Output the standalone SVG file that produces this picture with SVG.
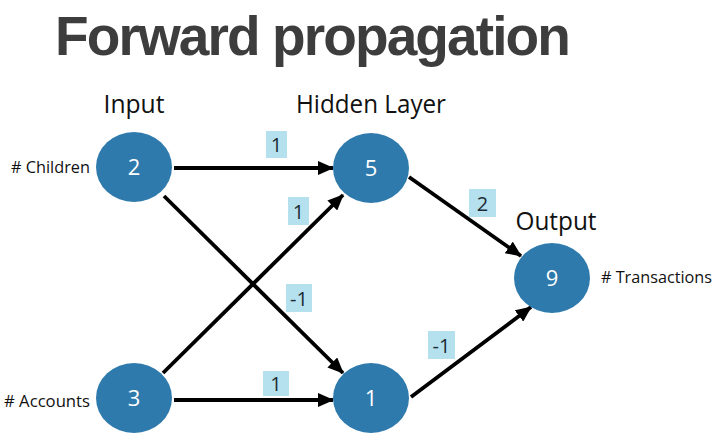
<svg xmlns="http://www.w3.org/2000/svg" width="717" height="438" viewBox="0 0 717 438">
<style>
.node{fill:#2f7aac;}
.num{fill:#ffffff;font-family:"Open Sans","Liberation Sans",sans-serif;font-size:22px;text-anchor:middle;}
.head{fill:#111;font-family:"Open Sans","Liberation Sans",sans-serif;font-size:25px;text-anchor:middle;}
.side{fill:#111;font-family:"Open Sans","Liberation Sans",sans-serif;font-size:16.5px;}
.wbox{fill:#b5e1ee;}
.wt{fill:#1c2b33;font-family:"Open Sans","Liberation Sans",sans-serif;font-size:20px;text-anchor:middle;}
.edge{stroke:#000;stroke-width:3.8;fill:none;marker-end:url(#arr);}
</style>
<defs>
<marker id="arr" markerUnits="userSpaceOnUse" markerWidth="16" markerHeight="14" refX="15" refY="7" orient="auto">
<path d="M0,0 L16,7 L0,14 Z" fill="#000"/>
</marker>
</defs>
<rect width="717" height="438" fill="#fff"/>
<text x="55" y="55" font-family="'Liberation Sans',Arial,sans-serif" font-weight="bold" font-size="55" letter-spacing="-1.9" fill="#3d3d3d">Forward propagation</text>
<text class="head" x="134" y="113" textLength="61" lengthAdjust="spacingAndGlyphs">Input</text>
<text class="head" x="371" y="113" textLength="150" lengthAdjust="spacingAndGlyphs">Hidden Layer</text>
<text class="head" x="556" y="230" textLength="81" lengthAdjust="spacingAndGlyphs">Output</text>
<g id="connectors">
<line class="edge" x1="174" y1="168" x2="333" y2="168"/>
<line class="edge" x1="164" y1="196" x2="343" y2="373"/>
<line class="edge" x1="163" y1="373" x2="343" y2="195"/>
<line class="edge" x1="174" y1="400" x2="333" y2="400"/>
<line class="edge" x1="409" y1="177" x2="521" y2="256"/>
<line class="edge" x1="411" y1="397" x2="531" y2="307"/>
</g>
<g id="weights">
<rect class="wbox" x="266" y="131" width="21" height="27"/><text class="wt" x="276.5" y="152">1</text>
<rect class="wbox" x="288" y="197" width="21" height="28"/><text class="wt" x="298.5" y="219">1</text>
<rect class="wbox" x="286" y="284" width="26" height="28"/><text class="wt" x="299" y="306">-1</text>
<rect class="wbox" x="263" y="371" width="26" height="25"/><text class="wt" x="276" y="391">1</text>
<rect class="wbox" x="469" y="189" width="27" height="28"/><text class="wt" x="482.5" y="211">2</text>
<rect class="wbox" x="428" y="331" width="27" height="28"/><text class="wt" x="441.5" y="353">-1</text>
</g>
<g id="node-children">
<ellipse class="node" cx="134" cy="167" rx="38" ry="35"/>
<text class="num" x="134" y="175">2</text>
<text class="side" x="11" y="173" textLength="79" lengthAdjust="spacingAndGlyphs">#&#160;Children</text>
</g>
<g id="node-accounts">
<ellipse class="node" cx="134" cy="398" rx="38" ry="35"/>
<text class="num" x="134" y="406">3</text>
<text class="side" x="4" y="407" textLength="86" lengthAdjust="spacingAndGlyphs">#&#160;Accounts</text>
</g>
<g id="node-hidden1">
<ellipse class="node" cx="371" cy="168" rx="38" ry="35"/>
<text class="num" x="371" y="176">5</text>
</g>
<g id="node-hidden2">
<ellipse class="node" cx="371" cy="398" rx="38" ry="35"/>
<text class="num" x="371" y="406">1</text>
</g>
<g id="node-output">
<ellipse class="node" cx="552" cy="278" rx="38" ry="35"/>
<text class="num" x="552" y="286">9</text>
<text class="side" x="601" y="283" textLength="111" lengthAdjust="spacingAndGlyphs">#&#160;Transactions</text>
</g>
</svg>
